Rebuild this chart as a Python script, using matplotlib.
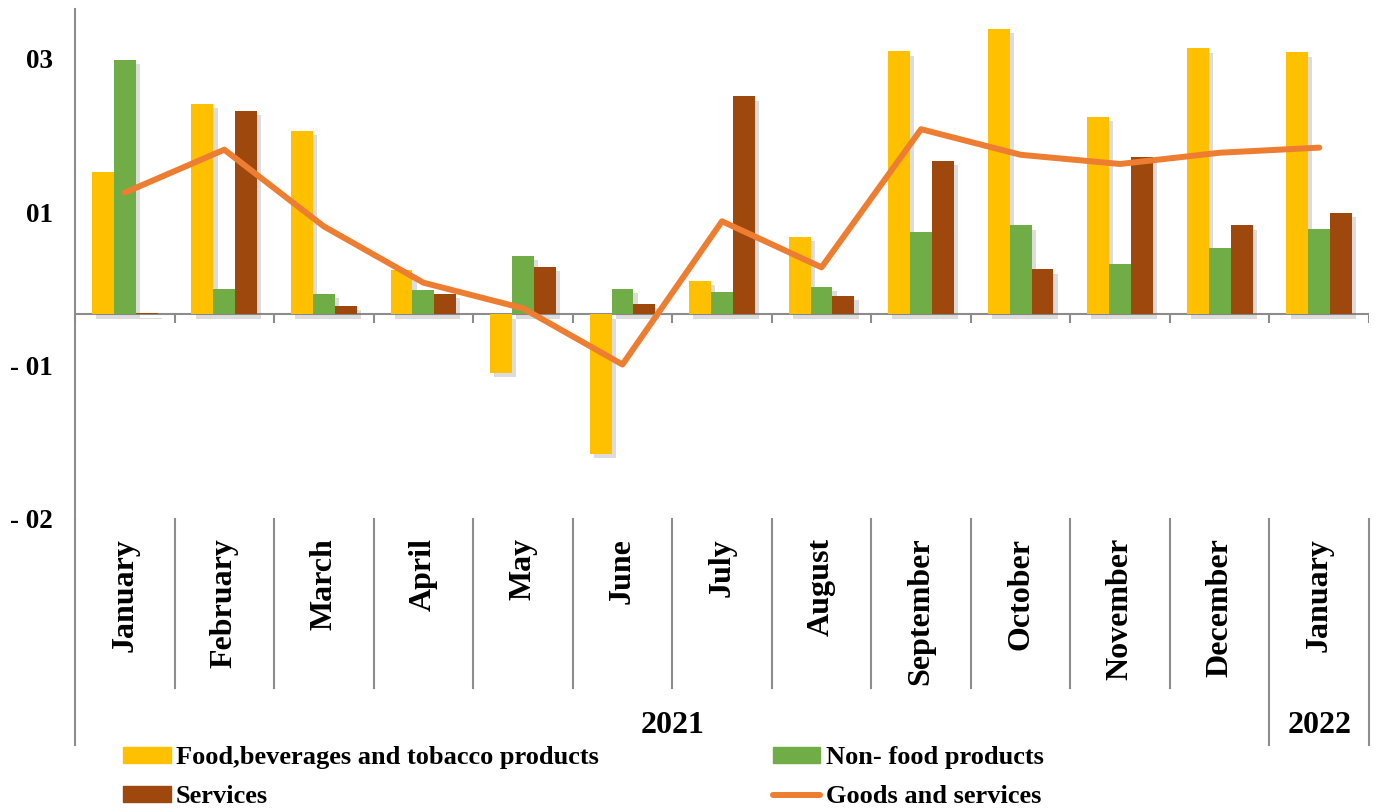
import matplotlib
matplotlib.use("Agg")
import matplotlib.pyplot as plt
import matplotlib.transforms as mtransforms
import matplotlib.patheffects as pe
from matplotlib.patches import Patch
from matplotlib.lines import Line2D
import numpy as np

# donnees
months = ["January", "February", "March", "April", "May", "June", "July",
          "August", "September", "October", "November", "December", "January"]
years = ["2021", "2022"]
food = [0.139, 0.206, 0.179, 0.043, -0.057, -0.136, 0.033, 0.076, 0.257, 0.279, 0.193, 0.260, 0.256]
non_food = [0.249, 0.025, 0.020, 0.024, 0.057, 0.025, 0.022, 0.027, 0.081, 0.087, 0.049, 0.065, 0.083]
services = [0.001, 0.199, 0.008, 0.020, 0.046, 0.010, 0.213, 0.018, 0.150, 0.044, 0.154, 0.087, 0.099]
goods_services = [0.119, 0.161, 0.086, 0.031, 0.006, -0.049, 0.091, 0.046, 0.181, 0.156, 0.147, 0.158, 0.163]
ytick_vals = [0.25, 0.10, -0.05, -0.20]
ytick_labels = ["03", "01", "- 01", "- 02"]

YELLOW = "#FFC000"
GREEN = "#70AD47"
BROWN = "#9E480E"
ORANGE = "#ED7D31"
GREY = "#8C8C8C"
FONT = "Liberation Serif"

fig = plt.figure(figsize=(13.79, 8.10), dpi=100)
ax = fig.add_axes([75 / 1379, 291 / 810, 1294 / 1379, 510 / 810])

x = np.arange(len(months))
w = 0.22
shadow = [pe.SimplePatchShadow(offset=(3, -3), shadow_rgbFace="#777777", alpha=0.25), pe.Normal()]
for off, vals, col in [(-w, food, YELLOW), (0, non_food, GREEN), (w, services, BROWN)]:
    bars = ax.bar(x + off, vals, w, color=col, zorder=3)
    for b in bars:
        b.set_path_effects(shadow)

ax.plot(x, goods_services, color=ORANGE, lw=4.3, solid_capstyle="round", zorder=4)

ax.set_xlim(-0.5, len(months) - 0.5)
ax.set_ylim(-0.2, 0.2985)

for s in ["top", "right", "bottom"]:
    ax.spines[s].set_visible(False)
ax.spines["left"].set_color(GREY)
ax.spines["left"].set_linewidth(1.5)

ax.axhline(0, color=GREY, lw=1.5, zorder=2)
ax.vlines(np.arange(len(months) + 1) - 0.5, -0.008, 0, color=GREY, lw=1.5, zorder=2)

ax.set_xticks([])
ax.set_yticks(ytick_vals)
ax.set_yticklabels(ytick_labels, fontfamily=FONT, fontweight="bold", fontsize=19.5)
ax.tick_params(axis="y", length=0, pad=16)

# etiquettes de categories sur deux niveaux
tr = mtransforms.blended_transform_factory(ax.transData, ax.transAxes)
for i, m in enumerate(months):
    ax.text(i, -0.037, m, rotation=90, ha="center", va="top", transform=tr,
            fontfamily=FONT, fontweight="bold", fontsize=23)
ax.text(5.5, -0.404, years[0], ha="center", va="center", transform=tr,
        fontfamily=FONT, fontweight="bold", fontsize=23)
ax.text(12, -0.404, years[1], ha="center", va="center", transform=tr,
        fontfamily=FONT, fontweight="bold", fontsize=23)

for b in np.arange(0.5, 11.0, 1.0):
    ax.plot([b, b], [0, -0.331], transform=tr, color=GREY, lw=1.5, clip_on=False)
for b in [-0.5, 11.5, 12.5]:
    ax.plot([b, b], [0, -0.443], transform=tr, color=GREY, lw=1.5, clip_on=False)

handles = [Patch(color=YELLOW), Patch(color=GREEN), Patch(color=BROWN),
           Line2D([0], [0], color=ORANGE, lw=4.3, solid_capstyle="round")]
labels = ["Food,beverages and tobacco products", "Non- food products", "Services", "Goods and services"]
# ordre par colonnes : col1 = food, services ; col2 = non food, goods
order = [0, 2, 1, 3]
fig.legend([handles[i] for i in order], [labels[i] for i in order], ncol=2,
           loc="upper left", bbox_to_anchor=(123 / 1379, 1 - 746 / 810),
           frameon=False, borderpad=0, borderaxespad=0,
           prop={"family": FONT, "weight": "bold", "size": 19},
           handlelength=1.8, handleheight=0.55, handletextpad=0.2,
           columnspacing=6.6, labelspacing=0.62)

fig.savefig("out.png", dpi=100)
